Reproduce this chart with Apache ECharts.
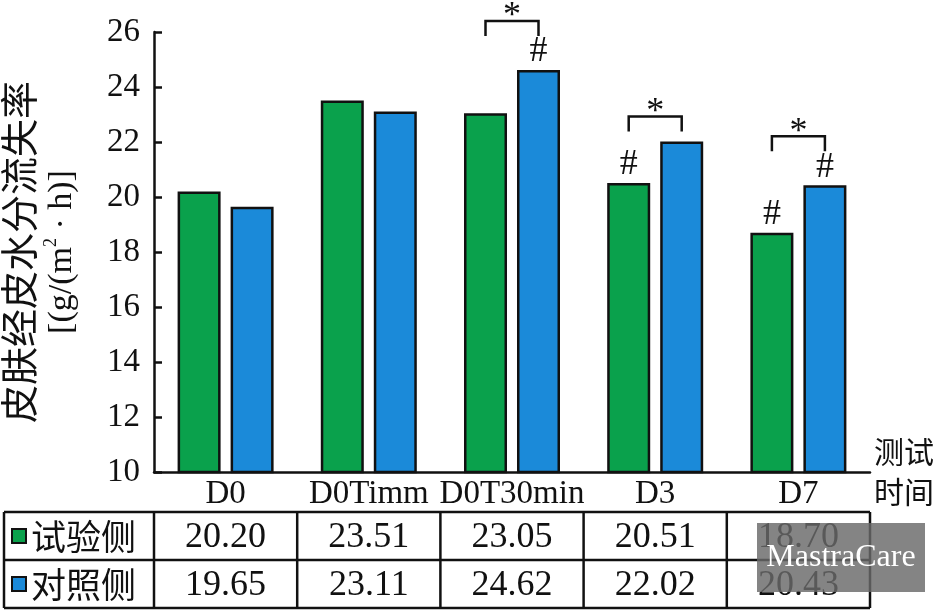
<!DOCTYPE html>
<html>
<head>
<meta charset="utf-8">
<script src="https://cdn.jsdelivr.net/npm/echarts@6/dist/echarts.min.js"></script>
<style>html,body{margin:0;padding:0;background:#fff}#c{width:944px;height:611px}</style>
</head>
<body>
<div id="c"></div>
<script>
const categories = ['D0', 'D0Timm', 'D0T30min', 'D3', 'D7'];
const seriesNames = ['试验侧', '对照侧'];
const testSide = [20.20, 23.51, 23.05, 20.51, 18.70];
const controlSide = [19.65, 23.11, 24.62, 22.02, 20.43];
const hashTest = [false, false, false, true, true];
const hashControl = [false, false, true, false, true];
const starPair = [false, false, true, true, true];
const yMin = 10, yMax = 26, yInterval = 2;
const xName = '测试\n时间';
const yName1 = '皮肤经皮水分流失率';

const GREEN = '#0aa14c', BLUE = '#1b8ad9';
const SERIF = '"Liberation Serif", "Times New Roman", serif';
const CJK = '"Noto Sans CJK SC", sans-serif';
const BW = 43, GAP = 10, OFF = (BW + GAP) / 2;

const chart = echarts.init(document.getElementById('c'));

const bracketData = categories.map((c, i) => {
  const hi = Math.max(testSide[i], controlSide[i]);
  const hiHash = controlSide[i] >= testSide[i] ? hashControl[i] : hashTest[i];
  return [i, hi, starPair[i] ? 1 : 0, hiHash ? 1 : 0];
});

function hashLabel(flags) {
  return {
    show: true, position: 'top', distance: 0,
    formatter: p => flags[p.dataIndex] ? '#' : '',
    fontFamily: SERIF, fontSize: 36, color: '#111'
  };
}

chart.setOption({
  animation: false,
  backgroundColor: '#fff',
  grid: { left: 154, right: 74, top: 32, bottom: 139, containLabel: false, outerBoundsMode: 'none' },
  xAxis: {
    type: 'category', data: categories,
    axisLine: { lineStyle: { color: '#111', width: 2.5 } },
    axisTick: { show: false },
    axisLabel: { interval: 0, margin: 6, fontFamily: SERIF, fontSize: 33, color: '#111' },
    name: xName, nameLocation: 'end', nameGap: 4,
    nameTextStyle: { fontFamily: CJK, fontSize: 30, color: '#111', align: 'left', lineHeight: 40 }
  },
  yAxis: {
    type: 'value', min: yMin, max: yMax, interval: yInterval,
    axisLine: { show: true, lineStyle: { color: '#111', width: 2.5 } },
    axisTick: { show: true, inside: true, length: 8, lineStyle: { color: '#111', width: 2.5 } },
    splitLine: { show: false },
    axisLabel: { margin: 14, fontFamily: SERIF, fontSize: 33, color: '#111' },
    name: '{t|' + yName1 + '}\n{u|[(g/(m}{s|2}{u| · h)]}',
    nameLocation: 'middle', nameRotate: 90, nameGap: 72,
    nameTextStyle: {
      rich: {
        t: { fontFamily: CJK, fontSize: 38, color: '#111', lineHeight: 46 },
        u: { fontFamily: SERIF, fontSize: 34, color: '#111', lineHeight: 40 },
        s: { fontFamily: SERIF, fontSize: 18, color: '#111', lineHeight: 40, verticalAlign: 'top' }
      }
    }
  },
  series: [
    {
      name: seriesNames[0], type: 'bar', data: testSide, barWidth: BW, barGap: (GAP / BW * 100) + '%',
      itemStyle: { color: GREEN, borderColor: '#111', borderWidth: 2.5 },
      label: hashLabel(hashTest)
    },
    {
      name: seriesNames[1], type: 'bar', data: controlSide, barWidth: BW,
      itemStyle: { color: BLUE, borderColor: '#111', borderWidth: 2.5 },
      label: hashLabel(hashControl)
    },
    {
      type: 'custom', clip: false, data: bracketData, z: 5,
      renderItem: function (params, api) {
        if (!api.value(2)) return null;
        const p = api.coord([api.value(0), api.value(1)]);
        const base = p[1] - (api.value(3) ? 34 : 10);
        const top = base - 15;
        const cx = p[0];
        return {
          type: 'group',
          children: [
            { type: 'polyline', shape: { points: [[cx - OFF, base], [cx - OFF, top], [cx + OFF, top], [cx + OFF, base]] },
              style: { stroke: '#111', lineWidth: 2.5, fill: null } },
            { type: 'text', style: { text: '*', x: cx, y: top + 14, align: 'center', verticalAlign: 'bottom',
              font: '36px ' + SERIF, fill: '#111' } }
          ]
        };
      }
    }
  ]
});

// table under the chart
const xs = categories.map((c, i) => chart.convertToPixel({ xAxisIndex: 0 }, i));
const gridL = 154, gridR = 944 - 74;
const bounds = [gridL];
for (let i = 0; i < xs.length - 1; i++) bounds.push((xs[i] + xs[i + 1]) / 2);
bounds.push(gridR);
const T0 = 512, T1 = 560, T2 = 608, TL = 4;
const g = [];
const line = (x1, y1, x2, y2) => g.push({ type: 'line', shape: { x1, y1, x2, y2 }, style: { stroke: '#111', lineWidth: 2.5 } });
line(TL, T0, gridR, T0); line(TL, T1, gridR, T1); line(TL, T2, gridR, T2);
line(TL, T0, TL, T2);
bounds.forEach(b => line(b, T0, b, T2));
const rows = [[testSide, GREEN, seriesNames[0]], [controlSide, BLUE, seriesNames[1]]];
rows.forEach((r, ri) => {
  const yc = (ri === 0 ? (T0 + T1) / 2 : (T1 + T2) / 2);
  g.push({ type: 'rect', shape: { x: 12, y: yc - 7, width: 14, height: 14 }, style: { fill: r[1], stroke: '#111', lineWidth: 2 } });
  g.push({ type: 'text', style: { text: r[2], x: 31, y: yc + 1, verticalAlign: 'middle', align: 'left', font: '35px ' + CJK, fill: '#111' } });
  r[0].forEach((v, i) => {
    g.push({ type: 'text', style: { text: v.toFixed(2), x: (bounds[i] + bounds[i + 1]) / 2, y: yc + 2, align: 'center', verticalAlign: 'middle', font: '36px ' + SERIF, fill: '#111' } });
  });
});
// watermark badge
g.push({ type: 'rect', shape: { x: 757, y: 523, width: 168, height: 69 }, style: { fill: 'rgba(105,105,105,0.82)' }, z: 50 });
g.push({ type: 'text', style: { text: 'MastraCare', x: 841, y: 558, align: 'center', verticalAlign: 'middle', font: '32px ' + SERIF, fill: '#fff' }, z: 51 });
chart.setOption({ graphic: g });
</script>
</body>
</html>
